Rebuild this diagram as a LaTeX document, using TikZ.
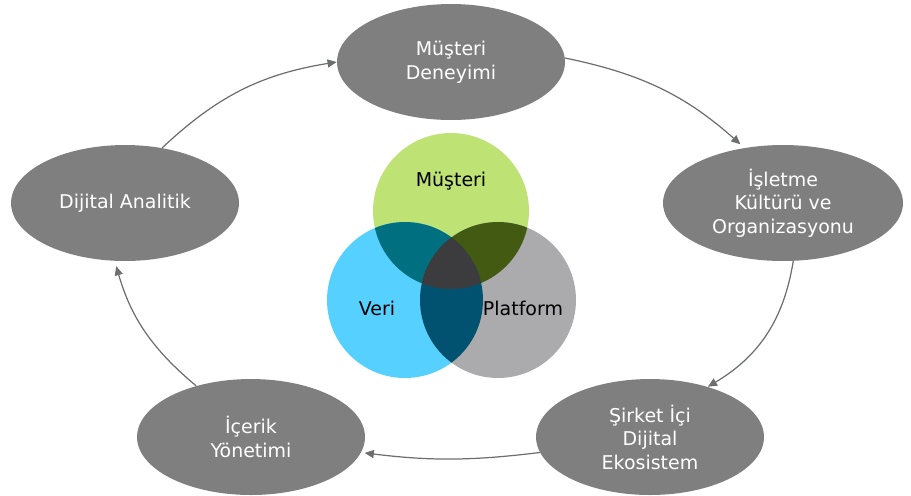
\documentclass[tikz,border=0pt]{standalone}
\usepackage{fontspec}
\setmainfont{DejaVu Sans}
\usetikzlibrary{shapes.geometric,arrows.meta}

\definecolor{ovalgray}{RGB}{127,127,127}
\definecolor{arrowgray}{RGB}{108,110,112}
\definecolor{custgreen}{RGB}{190,226,115}
\definecolor{datablue}{RGB}{86,208,255}
\definecolor{platgray}{RGB}{171,171,173}
\definecolor{mixteal}{RGB}{0,112,128}
\definecolor{mixolive}{RGB}{66,90,17}
\definecolor{mixblue}{RGB}{0,82,112}
\definecolor{mixcore}{RGB}{60,60,62}

\begin{document}
\begin{tikzpicture}[x=0.02cm, y=-0.02cm,
	  oval/.style={ellipse, fill=ovalgray, text=white, align=center, inner sep=0pt,
	    minimum width=4.56cm, minimum height=2.32cm, font=\fontsize{10.8}{13.4}\selectfont},
	  flow/.style={-{Triangle[length=5.2pt,width=4.6pt]}, line width=0.7pt, draw=arrowgray},
	  venntext/.style={text=black, font=\fontsize{10.8}{13.4}\selectfont},
	]
	\useasboundingbox (0,0) rectangle (911,495);
	
	% Venn circles
	\coordinate (cgreen) at (451,211);
	\coordinate (cblue) at (405,300);
	\coordinate (cgray) at (498,300);
	\fill[custgreen] (cgreen) circle[radius=1.56cm];
	\fill[datablue] (cblue) circle[radius=1.56cm];
	\fill[platgray] (cgray) circle[radius=1.56cm];
	\begin{scope}
		\clip (cgreen) circle[radius=1.56cm];
		\fill[mixteal] (cblue) circle[radius=1.56cm];
		\fill[mixolive] (cgray) circle[radius=1.56cm];
	\end{scope}
	\begin{scope}
		\clip (cblue) circle[radius=1.56cm];
		\fill[mixblue] (cgray) circle[radius=1.56cm];
		\clip (cgray) circle[radius=1.56cm];
		\fill[mixcore] (cgreen) circle[radius=1.56cm];
	\end{scope}
	\node[venntext] (customer) at (451,181) {Müşteri};
	\node[venntext] (data) at (377,308) {Veri};
	\node[venntext] (platform) at (523,308) {Platform};
	
	% Outer cycle
	\node[oval] (experience) at (451,62) {Müşteri\\Deneyimi};
	\node[oval, minimum width=4.8cm] (culture) at (783,203) {İşletme\\Kültürü ve\\Organizasyonu};
	\node[oval] (ecosystem) at (650,437) {Şirket İçi\\Dijital\\Ekosistem};
	\node[oval] (content) at (251,437) {İçerik\\Yönetimi};
	\node[oval] (analytics) at (125,203) {Dijital Analitik};
	
	% Relations (Arrows)
	\draw[flow] (analytics.56) to[bend left=17] (experience.west);
	\draw[flow, shorten >=3pt] (experience.2) to[bend left=15] (culture.125);
	\draw[flow] (culture.-80) to[bend left=25] (ecosystem.41);
	\draw[flow, shorten >=2pt] (ecosystem.188) to[bend left=7] (content.-8);
	\draw[flow, shorten >=3pt] (content.137) to[bend left=17] (analytics.-100);
	
\end{tikzpicture}
\end{document}
